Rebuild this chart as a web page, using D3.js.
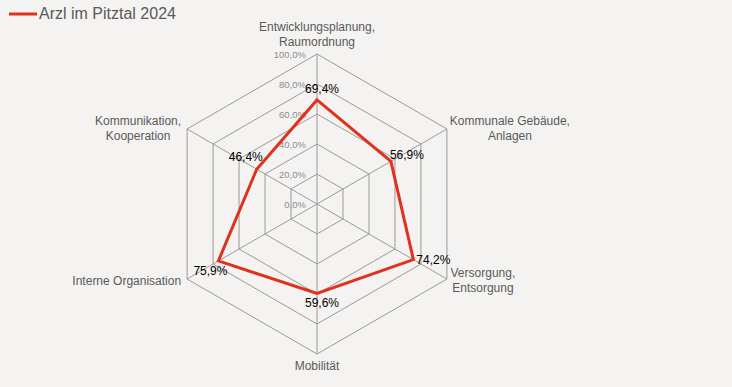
<!DOCTYPE html>
<html lang="de">
<head>
  <meta charset="UTF-8">
  <title>Arzl im Pitztal 2024</title>
  <style>
    html, body {
      margin: 0;
      padding: 0;
      background: #f4f3f1;
    }
    svg {
      display: block;
      font-family: "Liberation Sans", Arial, sans-serif;
    }
  </style>
</head>
<body>
  <svg id="chart" width="732" height="387"></svg>

  <script src="https://d3js.org/d3.v7.min.js"></script>
  <script>
    // data
    const categories = [
      ["Entwicklungsplanung,", "Raumordnung"],
      ["Kommunale Gebäude,", "Anlagen"],
      ["Versorgung,", "Entsorgung"],
      ["Mobilität"],
      ["Interne Organisation"],
      ["Kommunikation,", "Kooperation"]
    ];
    const seriesName = "Arzl im Pitztal 2024";
    const values = [69.4, 56.9, 74.2, 59.6, 75.9, 46.4];
    const ticks = [0, 20, 40, 60, 80, 100];

    const cx = 317, cy = 204, radius = 150;
    const fmt = v => v.toFixed(1).replace(".", ",") + "%";

    const svg = d3.select("#chart");

    const r = d3.scaleLinear().domain([0, 100]).range([0, radius]);
    const angle = d3.scaleLinear()
      .domain([0, categories.length])
      .range([0, 2 * Math.PI]);

    const pt = (i, v) => {
      const a = angle(i);
      return [cx + r(v) * Math.sin(a), cy - r(v) * Math.cos(a)];
    };

    // grid hexagons
    const g = svg.append("g");
    ticks.filter(t => t > 0).forEach(t => {
      g.append("polygon")
        .attr("points", categories.map((c, i) => pt(i, t).join(",")).join(" "))
        .attr("fill", "none")
        .attr("stroke", "#9a9a9a")
        .attr("stroke-width", 1);
    });

    // spokes
    categories.forEach((c, i) => {
      const [x, y] = pt(i, 100);
      g.append("line")
        .attr("x1", cx).attr("y1", cy)
        .attr("x2", x).attr("y2", y)
        .attr("stroke", "#9a9a9a")
        .attr("stroke-width", 1);
    });

    // tick labels
    ticks.forEach(t => {
      svg.append("text")
        .attr("x", cx - 11)
        .attr("y", cy - r(t) + 4)
        .attr("text-anchor", "end")
        .attr("font-size", 9.5)
        .attr("fill", "#8c8c8c")
        .text(fmt(t));
    });

    // category labels
    const labelPos = [
      { dx: 0, dy: -23, anchor: "middle" },
      { dx: 63, dy: -4, anchor: "middle" },
      { dx: 36, dy: -2, anchor: "middle" },
      { dx: 0, dy: 16, anchor: "middle" },
      { dx: -6, dy: 6, anchor: "end" },
      { dx: -49, dy: -4, anchor: "middle" }
    ];
    categories.forEach((lines, i) => {
      const [x, y] = pt(i, 100);
      const p = labelPos[i];
      const t = svg.append("text")
        .attr("font-size", 12)
        .attr("fill", "#595959")
        .attr("text-anchor", p.anchor);
      lines.forEach((line, k) => {
        t.append("tspan")
          .attr("x", x + p.dx)
          .attr("y", y + p.dy + k * 15)
          .text(line);
      });
    });

    // series line
    const lineGen = d3.line().curve(d3.curveLinearClosed);
    svg.append("path")
      .attr("d", lineGen(values.map((v, i) => pt(i, v))))
      .attr("fill", "none")
      .attr("stroke", "#e0301e")
      .attr("stroke-width", 3)
      .attr("stroke-linejoin", "miter");

    // data labels
    const dataOff = [[5, -7], [16, -2], [20, 4], [5, 14], [-8, 14], [-11, -8]];
    values.forEach((v, i) => {
      const [x, y] = pt(i, v);
      svg.append("text")
        .attr("x", x + dataOff[i][0])
        .attr("y", y + dataOff[i][1])
        .attr("text-anchor", "middle")
        .attr("font-size", 12)
        .attr("fill", "#000")
        .text(fmt(v));
    });

    // legend
    svg.append("line")
      .attr("x1", 9).attr("x2", 37)
      .attr("y1", 14).attr("y2", 14)
      .attr("stroke", "#e0301e")
      .attr("stroke-width", 3);
    svg.append("text")
      .attr("x", 39)
      .attr("y", 19)
      .attr("font-size", 16)
      .attr("fill", "#595959")
      .text(seriesName);
  </script>
</body>
</html>
